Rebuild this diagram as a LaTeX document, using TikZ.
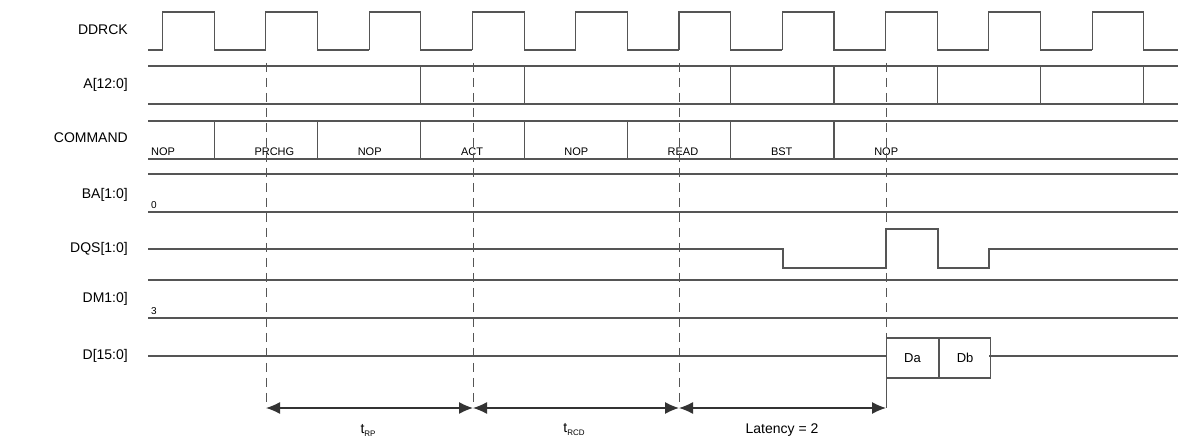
\documentclass[tikz,border=0pt]{standalone}
\usepackage{fontspec}
\setmainfont{Liberation Sans}
\usetikzlibrary{arrows.meta}
\definecolor{wave}{RGB}{85,85,85}
\tikzset{
  sig/.style={draw=wave, line width=1.1pt},
  sname/.style={anchor=east, font=\fontsize{14}{16}\selectfont, inner sep=0pt},
  cmd/.style={anchor=south west, font=\fontsize{11}{13}\selectfont, inner sep=1pt},
  edgemark/.style={draw=wave, line width=0.8pt, dash pattern=on 9pt off 6pt},
  span/.style={draw=black!80, line width=1.2pt, {Latex[length=14pt,width=12pt]}-{Latex[length=14pt,width=12pt]}},
  cell/.style={draw=wave, line width=1.1pt, minimum height=40pt, inner sep=0pt, font=\fontsize{13}{15}\selectfont},
}
\begin{document}
\begin{tikzpicture}[x=1pt,y=-1pt]
\useasboundingbox (0,0) rectangle (1187,443);
\def\per{103.3}

% signal names
\node[sname] (ck)  at (128,30)  {DDRCK};
\node[sname] (adr) at (128,85)  {A[12:0]};
\node[sname] (cm)  at (128,138) {COMMAND};
\node[sname] (ba)  at (128,195) {BA[1:0]};
\node[sname] (dqs) at (128,249) {DQS[1:0]};
\node[sname] (dm)  at (128,299) {DM1:0]};
\node[sname] (dd)  at (128,356) {D[15:0]};

% clock
\draw[sig] (148,50) -- (162.5,50);
\foreach \k in {0,...,9}{
  \pgfmathsetmacro\xr{162.5+\k*\per}
  \pgfmathsetmacro\xf{\xr+\per/2}
  \pgfmathsetmacro\xn{min(\xr+\per,1178)}
  \draw[sig] (\xr,50) -- (\xr,12) -- (\xf,12) -- (\xf,50) -- (\xn,50);
}

% address bus
\draw[sig] (148,66) -- (1178,66) (148,104) -- (1178,104);
\foreach \k in {2,3,5,6,7,8,9}
  \draw[sig] ({214.2+\k*\per},66) -- ({214.2+\k*\per},104);

% command bus
\draw[sig] (148,121) -- (1178,121) (148,159) -- (1178,159);
\foreach \k in {0,...,6}
  \draw[sig] ({214.2+\k*\per},121) -- ({214.2+\k*\per},159);
\foreach \t [count=\i from 0] in {NOP,PRCHG,NOP,ACT,NOP,READ,BST,NOP}
  \node[cmd] (c\i) at ({150+\i*\per},157) {\t};

% bank address, mask
\draw[sig] (148,174) -- (1178,174) (148,212) -- (1178,212);
\node[cmd, font=\fontsize{10}{12}\selectfont] (bav) at (150,210) {0};
\draw[sig] (148,280) -- (1178,280) (148,318) -- (1178,318);
\node[cmd, font=\fontsize{10}{12}\selectfont] (dmv) at (150,316) {3};

% strobe
\draw[sig] (148,249) -- (783,249) -- (783,268) -- (886,268) -- (886,229)
  -- (938,229) -- (938,268) -- (989,268) -- (989,249) -- (1178,249);

% data
\node[cell, minimum width=52pt, anchor=west] (da) at (886,358) {Da};
\node[cell, minimum width=51pt, anchor=west] (db) at (da.east) {Db};
\draw[sig] (148,356) -- (886,356) (989,356) -- (1178,356);

% markers
\foreach \x [count=\i] in {266,473,679}{
  \coordinate (m\i) at (\x,408);
  \draw[edgemark] (\x,63) -- (m\i);
}
\coordinate (m4) at (886,408);
\draw[edgemark] (886,63) -- (886,338);
\draw[wave, line width=0.8pt] (da.south west) -- (m4);

% spans
\draw[span] (m1) -- (m2);
\draw[span] (m2) -- (m3);
\draw[span] (m3) -- (m4);
\node[font=\fontsize{14}{16}\selectfont] (trp)  at (368,430) {t\raisebox{-3pt}{\fontsize{8}{9}\selectfont RP}};
\node[font=\fontsize{14}{16}\selectfont] (trcd) at (574,430) {t\raisebox{-3pt}{\fontsize{8}{9}\selectfont RCD}};
\node[font=\fontsize{14}{16}\selectfont] (lat)  at (782,430) {Latency = 2};
\end{tikzpicture}
\end{document}
